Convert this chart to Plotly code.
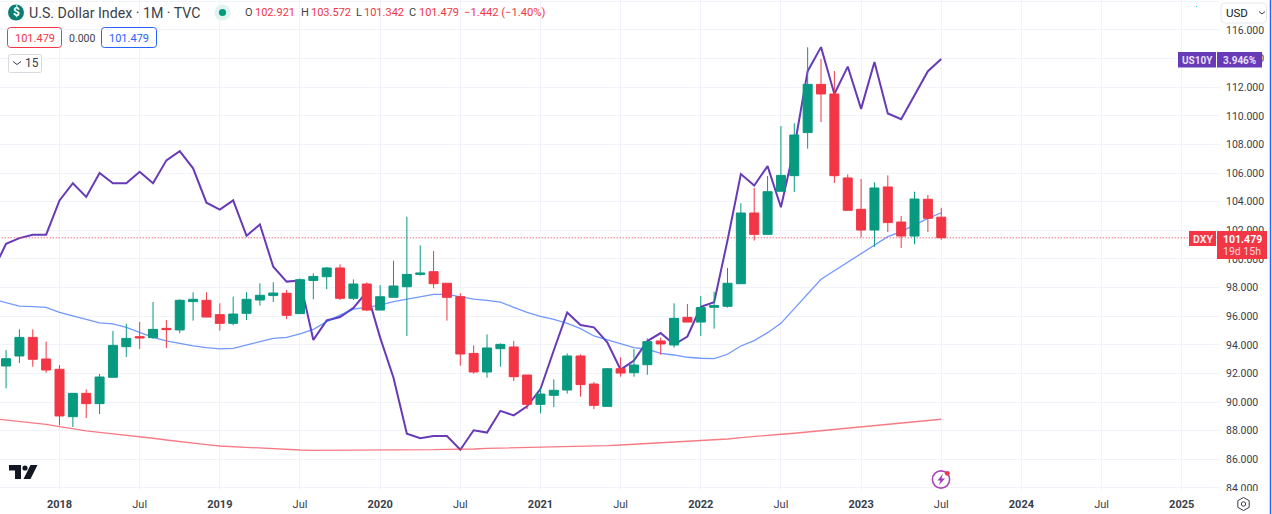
import plotly.graph_objects as go

# ---------- data (month index 0 = Jan 2018) ----------
candle_index = list(range(-4, 67))
opens = [92.52,93.22,94.52,93.01,92.29,88.98,90.61,89.89,91.73,93.87,94.57,94.50,95.15,95.04,97.02,97.11,
         96.11,95.50,96.20,97.13,97.44,97.60,96.18,98.50,98.76,99.37,97.25,98.25,96.43,97.32,98.06,98.92,
         99.11,98.30,97.36,93.40,92.10,93.73,93.85,91.89,89.84,90.47,90.84,93.22,91.26,89.70,92.33,92.05,
         92.61,94.27,93.99,95.92,95.59,96.62,96.69,98.27,103.21,101.72,104.73,105.82,108.83,112.20,111.53,
         105.66,103.47,102.02,105.03,102.58,101.60,104.17,102.921]
highs = [93.64,95.08,95.08,94.22,92.59,90.61,90.89,91.96,94.97,95.48,95.60,96.99,95.73,97.18,97.67,97.67,
         96.90,97.37,97.67,98.30,98.37,97.83,98.64,99.00,99.44,99.62,98.57,98.36,98.18,99.88,102.95,100.95,
         100.55,98.30,97.60,93.96,94.73,94.10,94.27,91.89,90.96,91.59,93.40,93.33,91.40,92.38,93.13,93.71,
         94.45,94.50,96.90,96.85,97.41,97.71,99.37,103.89,104.96,105.80,109.29,109.48,114.79,113.97,113.13,
         105.91,105.59,105.35,105.84,103.00,104.70,104.47,103.572]
lows = [90.96,92.73,92.47,92.05,88.37,88.26,88.89,89.17,91.73,93.15,93.71,94.41,93.78,94.80,95.69,95.94,
        94.99,95.36,95.73,96.74,96.99,95.80,96.18,97.18,97.88,97.13,97.13,96.36,96.43,97.32,94.61,98.83,
        97.95,95.69,92.54,91.98,91.70,92.47,91.47,89.51,89.21,89.65,90.59,90.38,89.51,89.70,91.77,91.77,
        91.91,93.31,93.80,95.59,94.62,95.13,96.60,98.27,101.28,101.72,104.73,104.68,107.71,109.57,105.31,
        103.40,101.51,100.84,101.88,100.77,101.02,101.88,101.342]
closes = [93.03,94.52,92.99,92.24,89.03,90.61,89.89,91.75,93.96,94.45,94.48,95.08,95.06,97.11,97.18,95.94,
          95.50,96.15,97.18,97.46,97.62,96.06,98.55,98.78,99.37,97.25,98.25,96.43,97.36,98.11,98.92,99.02,
          98.27,97.32,93.36,92.10,93.78,94.03,91.77,89.84,90.56,90.82,93.22,91.22,89.77,92.33,92.03,92.59,
          94.22,94.06,95.85,95.59,96.60,96.74,98.30,103.21,101.72,104.70,105.84,108.66,112.20,111.53,105.82,
          103.40,102.02,104.96,102.54,101.60,104.19,102.84,101.479]

line_index = list(range(-5, 67))
us10y = [2.09,2.33,2.38,2.41,2.41,2.71,2.86,2.74,2.95,2.86,2.86,2.96,2.86,3.06,3.14,2.99,2.69,2.63,2.71,2.40,
         2.50,2.13,2.00,2.01,1.49,1.66,1.69,1.77,1.91,1.51,1.16,0.67,0.63,0.65,0.65,0.53,0.70,0.68,0.87,0.83,
         0.91,1.06,1.40,1.73,1.62,1.60,1.47,1.23,1.31,1.48,1.55,1.45,1.52,1.78,1.82,2.36,2.94,2.84,3.01,2.65,
         3.17,3.84,4.05,3.64,3.88,3.51,3.92,3.47,3.42,3.63,3.84,3.946]
ma_blue = [97.18,96.95,96.71,96.67,96.62,96.27,96.01,95.76,95.53,95.46,95.22,94.87,94.52,94.27,94.08,93.92,
           93.80,93.71,93.75,93.99,94.22,94.45,94.52,94.76,95.08,95.62,96.08,96.50,96.62,96.78,97.02,97.20,
           97.37,97.53,97.53,97.36,97.20,97.11,96.99,96.62,96.27,95.99,95.78,95.50,95.13,94.62,94.34,94.03,
           93.80,93.69,93.40,93.29,93.13,93.06,93.03,93.34,93.92,94.29,94.85,95.50,96.55,97.60,98.58,99.18,
           99.76,100.39,100.98,101.56,101.91,102.37,102.84,103.23]
ma_red = [88.84,88.75,88.65,88.56,88.44,88.28,88.12,87.98,87.88,87.79,87.70,87.58,87.47,87.35,87.23,87.12,
          87.02,86.93,86.88,86.81,86.77,86.72,86.67,86.65,86.63,86.63,86.63,86.63,86.63,86.65,86.65,86.65,
          86.67,86.67,86.70,86.70,86.72,86.77,86.79,86.81,86.84,86.86,86.86,86.88,86.88,86.91,86.95,87.00,
          87.05,87.10,87.17,87.21,87.28,87.33,87.38,87.42,87.52,87.61,87.68,87.75,87.82,87.91,88.03,88.10,
          88.19,88.29,88.38,88.45,88.52,88.61,88.70,88.80]
last_price = 101.479

tick_index = [0,6,12,18,24,30,36,42,48,54,60,66,72,78,84]
tick_labels = ["<b>2018</b>","Jul","<b>2019</b>","Jul","<b>2020</b>","Jul","<b>2021</b>","Jul","<b>2022</b>","Jul",
               "<b>2023</b>","Jul","<b>2024</b>","Jul","<b>2025</b>"]

# ---------- style ----------
FONT = "Roboto"
GREEN, RED, PURPLE, BLUE = "#089981", "#f23645", "#673ab7", "#2962ff"
TEXT = "#3a3e49"
GRID = "#f0f3fa"
W, H = 1272, 514
PW, PH = 1219, 490   # plot area in pixels

def px(x): return x / PW
def py(y): return 1 - y / PH

fig = go.Figure()
fig.add_trace(go.Scatter(x=line_index, y=us10y, yaxis="y", mode="lines",
                         line=dict(color=PURPLE, width=2), showlegend=False, hoverinfo="skip"))
fig.add_trace(go.Scatter(x=line_index, y=ma_red, yaxis="y2", mode="lines",
                         line=dict(color=RED, width=1.3), opacity=0.65, showlegend=False, hoverinfo="skip"))
fig.add_trace(go.Scatter(x=line_index, y=ma_blue, yaxis="y2", mode="lines",
                         line=dict(color=BLUE, width=1.3), opacity=0.65, showlegend=False, hoverinfo="skip"))
fig.add_trace(go.Scatter(x=[-5, 87], y=[last_price, last_price], yaxis="y2", mode="lines",
                         line=dict(color=RED, width=1, dash="1px,2px"), showlegend=False, hoverinfo="skip"))
fig.add_trace(go.Candlestick(x=candle_index, open=opens, high=highs, low=lows, close=closes, yaxis="y3",
                             increasing=dict(line=dict(color=GREEN, width=1), fillcolor=GREEN),
                             decreasing=dict(line=dict(color=RED, width=1), fillcolor=RED),
                             whiskerwidth=0, showlegend=False, hoverinfo="skip"))

shapes, notes = [], []

def rect(x0, y0, x1, y1, fill, line=None):
    shapes.append(dict(type="rect", xref="paper", yref="paper", x0=px(x0), x1=px(x1), y0=py(y0), y1=py(y1),
                       fillcolor=fill, line=dict(color=line or fill, width=1 if line else 0), layer="above"))

def rrect(x0, y0, x1, y1, r, fill, line):
    P = lambda x, y: f"{px(x)},{py(y)}"
    d = (f"M{P(x0+r,y0)} L{P(x1-r,y0)} Q{P(x1,y0)} {P(x1,y0+r)} L{P(x1,y1-r)} Q{P(x1,y1)} {P(x1-r,y1)} "
         f"L{P(x0+r,y1)} Q{P(x0,y1)} {P(x0,y1-r)} L{P(x0,y0+r)} Q{P(x0,y0)} {P(x0+r,y0)} Z")
    shapes.append(dict(type="path", xref="paper", yref="paper", path=d, fillcolor=fill,
                       line=dict(color=line, width=1), layer="above"))

def circle(cx, cy, r, fill, line=None, lw=1):
    shapes.append(dict(type="circle", xref="paper", yref="paper", x0=px(cx-r), x1=px(cx+r), y0=py(cy-r), y1=py(cy+r),
                       fillcolor=fill, line=dict(color=line or fill, width=lw if line else 0), layer="above"))

def poly(pts, fill=None, line=None, lw=1, close=True):
    d = "M" + " L".join(f"{px(x)},{py(y)}" for x, y in pts) + (" Z" if close else "")
    shapes.append(dict(type="path", xref="paper", yref="paper", path=d,
                       fillcolor=fill or "rgba(0,0,0,0)",
                       line=dict(color=line or "rgba(0,0,0,0)", width=lw if line else 0), layer="above"))

def label(x, y, text, color=TEXT, size=13, anchor="left"):
    notes.append(dict(xref="paper", yref="paper", x=px(x), y=py(y), text=text, showarrow=False,
                      xanchor=anchor, yanchor="middle", borderpad=0,
                      font=dict(family=FONT, size=size, color=color)))

# clip the bottom price label and right edge
rect(1219.5, 491, 1270, 498, "#ffffff")
shapes.append(dict(type="line", xref="paper", yref="paper", x0=px(1270.5), x1=px(1270.5), y0=py(0), y1=py(514),
                   line=dict(color=BLUE, width=1.5), layer="above"))

# legend block
circle(16, 12.5, 8, "#0b7d6e")
label(16, 12.5, "<b>$</b>", "#ffffff", 12, "center")
label(28, 13, "U.S. Dollar Index · 1M · TVC", "#3b3f4a", 14.2)
circle(222.5, 12.5, 8, "#dff3ef")
circle(222.5, 12.5, 3.6, GREEN)
label(244, 13, "O", "#3b3f4a", 11)
label(254, 13, "102.921", RED, 11)
label(300, 13, "H", "#3b3f4a", 11)
label(309.5, 13, "103.572", RED, 11)
label(355, 13, "L", "#3b3f4a", 11)
label(362.5, 13, "101.342", RED, 11)
label(408, 13, "C", "#3b3f4a", 11)
label(417.5, 13, "101.479", RED, 11)
label(463, 13, "−1.442 (−1.40%)", RED, 11.2)

rrect(7.5, 27.5, 61.5, 47.5, 3, "#ffffff", RED)
label(34.5, 38, "101.479", RED, 11, "center")
label(81.5, 38, "0.000", TEXT, 10.5, "center")
rrect(101.5, 27.5, 156.5, 47.5, 3, "#ffffff", BLUE)
label(129, 38, "101.479", BLUE, 11, "center")
rrect(8.5, 54.5, 41.5, 72.5, 2, "#ffffff", "#d8dae0")
poly([(13, 61.5), (17, 64.5), (21, 61.5)], line=TEXT, lw=1, close=False)
label(32, 63, "15", TEXT, 12, "center")

# currency selector
rrect(1221, 3, 1266.5, 23, 4, "#ffffff", "#e6e8ee")
label(1225, 13.5, "USD", "#131722", 11.5)
poly([(1259, 11.5), (1262, 14), (1265, 11.5)], line=TEXT, lw=1, close=False)
rect(1196, 6, 1197, 7, "#00e5e5")

# price tags
rect(1178, 52, 1216, 67.5, PURPLE)
label(1197, 60, "<b>US10Y</b>", "#e8e0f5", 10, "center")
rect(1217, 52, 1262, 67.5, PURPLE)
label(1239.5, 60, "<b>3.946%</b>", "#e8e0f5", 10, "center")
rect(1189, 231, 1216, 246, RED)
label(1202.5, 239, "<b>DXY</b>", "#ffe4e6", 10.5, "center")
rect(1217, 231, 1267, 259, RED)
label(1242, 239, "<b>101.479</b>", "#ffffff", 10.5, "center")
label(1242, 252, "19d 15h", "#ffd7da", 10.5, "center")

# TradingView mark
poly([(9, 465), (21, 465), (21, 479), (15, 479), (15, 470.5), (9, 470.5)], fill="#131722")
circle(25, 468, 2.6, "#131722")
poly([(30.5, 465), (37.5, 465), (30.5, 479), (23.5, 479)], fill="#131722")

# lightning badge
circle(941, 479.5, 8.6, "#ffffff", "#ab47bc", 1.6)
poly([(943, 473.5), (937.5, 480.5), (940.5, 480.5), (939, 485), (945, 478.5), (941.5, 478.5)], fill="#9c3fb5")
circle(947.3, 473.3, 2.4, RED)

# settings gear
poly([(1243.5, 497.5), (1249.2, 500.7), (1249.2, 507.3), (1243.5, 510.5), (1237.8, 507.3), (1237.8, 500.7)],
     line=TEXT, lw=1)
circle(1243.5, 504, 2.2, "rgba(0,0,0,0)", TEXT, 1)

x_range = [-4.454, 86.79]
price_range = [83.855, 118.096]
yield_range = [0.178, 4.462]

fig.update_layout(
    width=W, height=H, autosize=False,
    margin=dict(l=0, r=W - PW, t=0, b=H - PH, pad=0),
    paper_bgcolor="#ffffff", plot_bgcolor="#ffffff",
    font=dict(family=FONT, size=11, color=TEXT),
    showlegend=False, hovermode=False, dragmode=False,
    boxgap=0, boxgroupgap=0.326,
    shapes=shapes, annotations=notes,
    xaxis=dict(range=x_range, tickmode="array", tickvals=tick_index, ticktext=tick_labels,
               showgrid=True, gridcolor=GRID, gridwidth=1, zeroline=False, showline=False,
               ticks="", tickfont=dict(family=FONT, size=11, color=TEXT), ticklabelstandoff=6,
               rangeslider=dict(visible=False)),
    yaxis=dict(range=yield_range, visible=False, showgrid=False, zeroline=False),
    yaxis2=dict(range=price_range, overlaying="y", visible=False, showgrid=False, zeroline=False),
    yaxis3=dict(range=price_range, overlaying="y", side="right", anchor="x",
                tick0=84, dtick=2, tickformat=".3f", showgrid=True, gridcolor=GRID, gridwidth=1,
                zeroline=False, showline=False, ticks="", ticklabelstandoff=6,
                tickfont=dict(family=FONT, size=10.5, color=TEXT)),
)

fig.write_html("out.html", config=dict(displayModeBar=False),
               post_script="document.body.style.margin='0';document.documentElement.style.overflow='hidden';")
